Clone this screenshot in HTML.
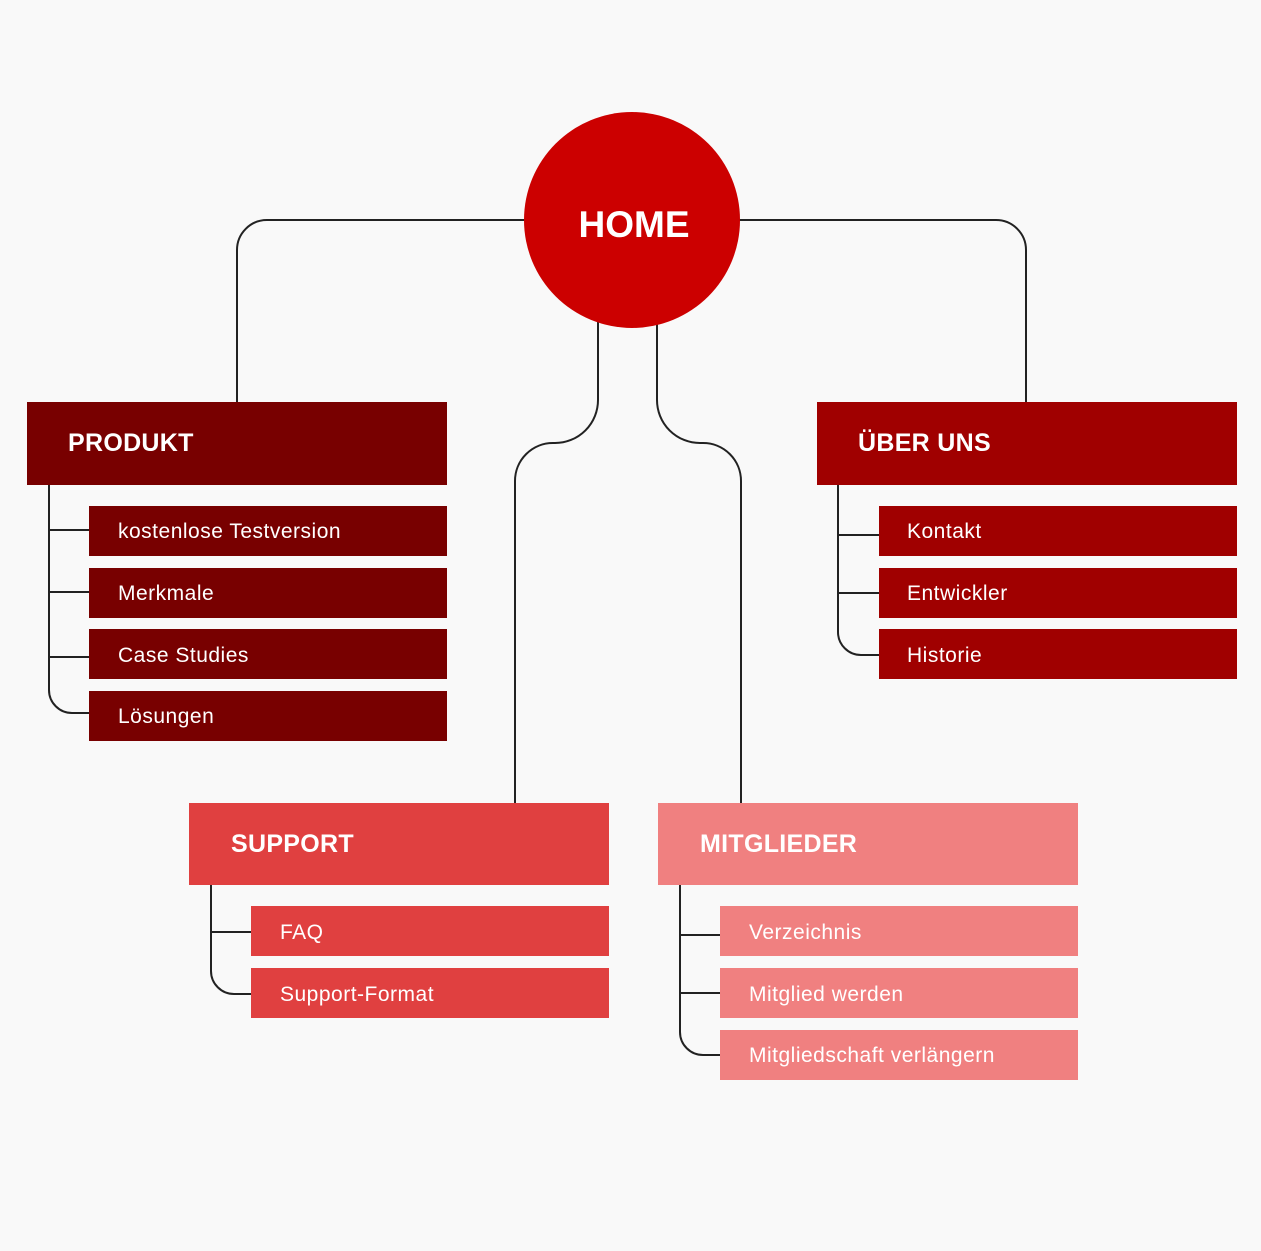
<!DOCTYPE html>
<html><head><meta charset="utf-8"><style>
html,body{margin:0;padding:0;background:#f9f9f9;}
svg{display:block}
text{font-family:"Liberation Sans",sans-serif;fill:#fff}
.h{font-weight:bold;font-size:25px;letter-spacing:0.3px}
.i{font-size:21px;letter-spacing:0.5px}
</style></head><body>
<svg width="1261" height="1251" viewBox="0 0 1261 1251" xmlns="http://www.w3.org/2000/svg">
<rect width="1261" height="1251" fill="#f9f9f9"/>
<g fill="none" stroke="#222" stroke-width="2">
<path d="M530 220 H267 A30 30 0 0 0 237 250 V403"/>
<path d="M735 220 H996 A30 30 0 0 1 1026 250 V403"/>
<path d="M598 320 V400 A43 43 0 0 1 555 443 H553 A38 38 0 0 0 515 481 V804"/>
<path d="M657 320 V400 A43 43 0 0 0 700 443 H703 A38 38 0 0 1 741 481 V804"/>
<path d="M49 484 V690 A23 23 0 0 0 72 713 H90 M49 530 H90 M49 592 H90 M49 657 H90"/>
<path d="M838 484 V632 A23 23 0 0 0 861 655 H880 M838 535 H880 M838 593 H880"/>
<path d="M211 884 V971 A23 23 0 0 0 234 994 H252 M211 932 H252"/>
<path d="M680 884 V1032 A23 23 0 0 0 703 1055 H721 M680 935 H721 M680 993 H721"/>
</g>
<circle cx="632" cy="220" r="108" fill="#cc0000"/>
<text x="634" y="237" text-anchor="middle" style="font-weight:bold;font-size:37px">HOME</text>

<rect x="27" y="402" width="420" height="83" fill="#780000"/>
<text class="h" x="68" y="451">PRODUKT</text>
<g fill="#780000">
<rect x="89" y="506" width="358" height="50"/><rect x="89" y="568" width="358" height="50"/>
<rect x="89" y="629" width="358" height="50"/><rect x="89" y="691" width="358" height="50"/></g>
<text class="i" x="118" y="538">kostenlose Testversion</text>
<text class="i" x="118" y="600">Merkmale</text>
<text class="i" x="118" y="662">Case Studies</text>
<text class="i" x="118" y="723">Lösungen</text>

<rect x="817" y="402" width="420" height="83" fill="#a00000"/>
<text class="h" x="858" y="451">ÜBER UNS</text>
<g fill="#a00000">
<rect x="879" y="506" width="358" height="50"/><rect x="879" y="568" width="358" height="50"/>
<rect x="879" y="629" width="358" height="50"/></g>
<text class="i" x="907" y="538">Kontakt</text>
<text class="i" x="907" y="600">Entwickler</text>
<text class="i" x="907" y="662">Historie</text>

<rect x="189" y="803" width="420" height="82" fill="#e04040"/>
<text class="h" x="231" y="852">SUPPORT</text>
<g fill="#e04040">
<rect x="251" y="906" width="358" height="50"/><rect x="251" y="968" width="358" height="50"/></g>
<text class="i" x="280" y="939">FAQ</text>
<text class="i" x="280" y="1001">Support-Format</text>

<rect x="658" y="803" width="420" height="82" fill="#f08080"/>
<text class="h" x="700" y="852">MITGLIEDER</text>
<g fill="#f08080">
<rect x="720" y="906" width="358" height="50"/><rect x="720" y="968" width="358" height="50"/>
<rect x="720" y="1030" width="358" height="50"/></g>
<text class="i" x="749" y="939">Verzeichnis</text>
<text class="i" x="749" y="1001">Mitglied werden</text>
<text class="i" x="749" y="1062">Mitgliedschaft verlängern</text>
</svg>
</body></html>
